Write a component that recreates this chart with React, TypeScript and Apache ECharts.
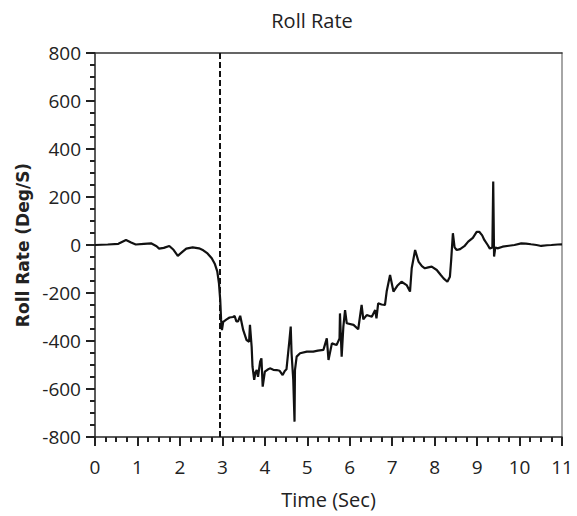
import React, { useEffect, useRef } from "react";
import * as echarts from "echarts";

const times: number[] = [
  0, 0.3, 0.55, 0.73, 0.85, 0.96, 1.15, 1.32, 1.45, 1.51, 1.62, 1.75, 1.85, 1.95, 2.05, 2.15, 2.3, 2.45, 2.55, 2.65,
  2.75, 2.82, 2.88, 2.92, 2.95, 2.97, 2.99, 3.02, 3.1, 3.17, 3.25, 3.29, 3.33, 3.37, 3.42, 3.49, 3.57, 3.63, 3.65, 3.69,
  3.71, 3.75, 3.78, 3.81, 3.84, 3.89, 3.92, 3.95, 4.0, 4.06, 4.12, 4.2, 4.28, 4.35, 4.42, 4.47, 4.51, 4.58, 4.61, 4.63,
  4.67, 4.7, 4.71, 4.75, 4.83, 4.99, 5.14, 5.25, 5.38, 5.46, 5.5, 5.58, 5.69, 5.76, 5.77, 5.81, 5.85, 5.89, 5.93, 6.09,
  6.2, 6.28, 6.32, 6.4, 6.52, 6.6, 6.63, 6.67, 6.75, 6.83, 6.87, 6.95, 7.03, 7.12, 7.22, 7.34, 7.42, 7.46, 7.54, 7.62,
  7.7, 7.77, 7.85, 7.93, 8.05, 8.14, 8.21, 8.3, 8.36, 8.39, 8.43, 8.47, 8.52, 8.6, 8.7, 8.79, 8.9, 8.99, 9.05, 9.12,
  9.17, 9.25, 9.3, 9.36, 9.38, 9.4, 9.43, 9.48, 9.6, 9.75, 9.88, 10.04, 10.15, 10.27, 10.4, 10.51, 10.65, 10.75, 10.9, 11.0,
];

const rollRate: number[] = [
  0, 2, 5, 21, 10, 2, 5, 7, -5, -15, -12, -4, -20, -45, -30, -15, -10, -14, -22, -35,
  -55, -78, -110, -160, -230, -311, -355, -320, -310, -302, -300, -296, -318, -318, -295, -354, -396, -403, -333, -424,
  -507, -562, -530, -521, -549, -486, -472, -590, -528, -520, -514, -520, -521, -524, -542, -525, -518, -396, -340, -451,
  -562, -736, -521, -465, -451, -444, -444, -440, -437, -389, -479, -410, -417, -389, -285, -465, -340, -271, -326, -333,
  -351, -250, -310, -292, -299, -271, -306, -243, -248, -250, -194, -125, -194, -170, -153, -167, -194, -97, -21, -69,
  -88, -97, -93, -90, -104, -124, -139, -153, -132, -62, 49, -10, -21, -17, -5, 14, 30, 55, 55, 40,
  21, 0, -15, -10, 265, -48, -10, -14, -7, -3, 0, 7, 6, 3, 0, -4, -1, 0, 2, 3,
];

const eventTime = 2.95;
const xTicks = { min: 0, max: 11, interval: 1 };
const yTicks = { min: -800, max: 800, interval: 200 };

export default function App() {
  const ref = useRef<HTMLDivElement>(null);
  useEffect(() => {
    document.body.style.margin = "0";
    if (!ref.current) return;
    const chart = echarts.init(ref.current, undefined, { renderer: "svg" });
    const font = "Open Sans";
    const data = times.map((t, i) => [t, rollRate[i]]);
    chart.setOption({
      animation: false,
      backgroundColor: "#fff",
      title: {
        text: "Roll Rate",
        left: 307,
        top: 5,
        textAlign: "center",
        textStyle: { fontFamily: font, fontSize: 20, fontWeight: "normal", color: "#222" },
      },
      grid: { left: 95, right: 15, top: 53, bottom: 79 },
      xAxis: [
        {
          type: "value",
          min: xTicks.min,
          max: xTicks.max,
          interval: xTicks.interval,
          name: "Time (Sec)",
          nameLocation: "middle",
          nameGap: 52,
          nameTextStyle: { fontFamily: font, fontSize: 20, color: "#222" },
          axisLine: { show: true, onZero: false, lineStyle: { color: "#222", width: 1.5 } },
          axisTick: { show: true, length: 9, lineStyle: { color: "#222", width: 2 } },
          minorTick: { show: true, splitNumber: 4, length: 5, lineStyle: { color: "#222", width: 2 } },
          axisLabel: { fontFamily: font, fontSize: 19, color: "#222", margin: 20 },
          splitLine: { show: false },
          minorSplitLine: { show: false },
        },
        {
          type: "value",
          position: "top",
          min: xTicks.min,
          max: xTicks.max,
          axisLine: { show: true, onZero: false, lineStyle: { color: "#333", width: 1.5 } },
          axisTick: { show: false },
          axisLabel: { show: false },
          splitLine: { show: false },
        },
      ],
      yAxis: [
        {
          type: "value",
          min: yTicks.min,
          max: yTicks.max,
          interval: yTicks.interval,
          name: "Roll Rate (Deg/S)",
          nameLocation: "middle",
          nameGap: 62,
          nameTextStyle: { fontFamily: "DejaVu Sans", fontSize: 17, fontWeight: "bold", color: "#222" },
          axisLine: { show: true, onZero: false, lineStyle: { color: "#222", width: 1.5 } },
          axisTick: { show: true, length: 9, lineStyle: { color: "#222", width: 2 } },
          minorTick: { show: true, splitNumber: 4, length: 5, lineStyle: { color: "#222", width: 2 } },
          axisLabel: { fontFamily: font, fontSize: 19, color: "#222", margin: 14 },
          splitLine: { show: false },
          minorSplitLine: { show: false },
        },
        {
          type: "value",
          position: "right",
          min: yTicks.min,
          max: yTicks.max,
          axisLine: { show: true, onZero: false, lineStyle: { color: "#888", width: 1.5 } },
          axisTick: { show: false },
          axisLabel: { show: false },
          splitLine: { show: false },
        },
      ],
      series: [
        {
          type: "line",
          data,
          xAxisIndex: 0,
          yAxisIndex: 0,
          showSymbol: false,
          symbol: "none",
          lineStyle: { color: "#111", width: 2.2 },
          markLine: {
            silent: true,
            symbol: "none",
            label: { show: false },
            lineStyle: { color: "#111", type: [6, 3], width: 2 },
            data: [{ xAxis: eventTime }],
          },
        },
      ],
    });
    return () => chart.dispose();
  }, []);
  return <div ref={ref} style={{ width: 577, height: 516 }} />;
}
